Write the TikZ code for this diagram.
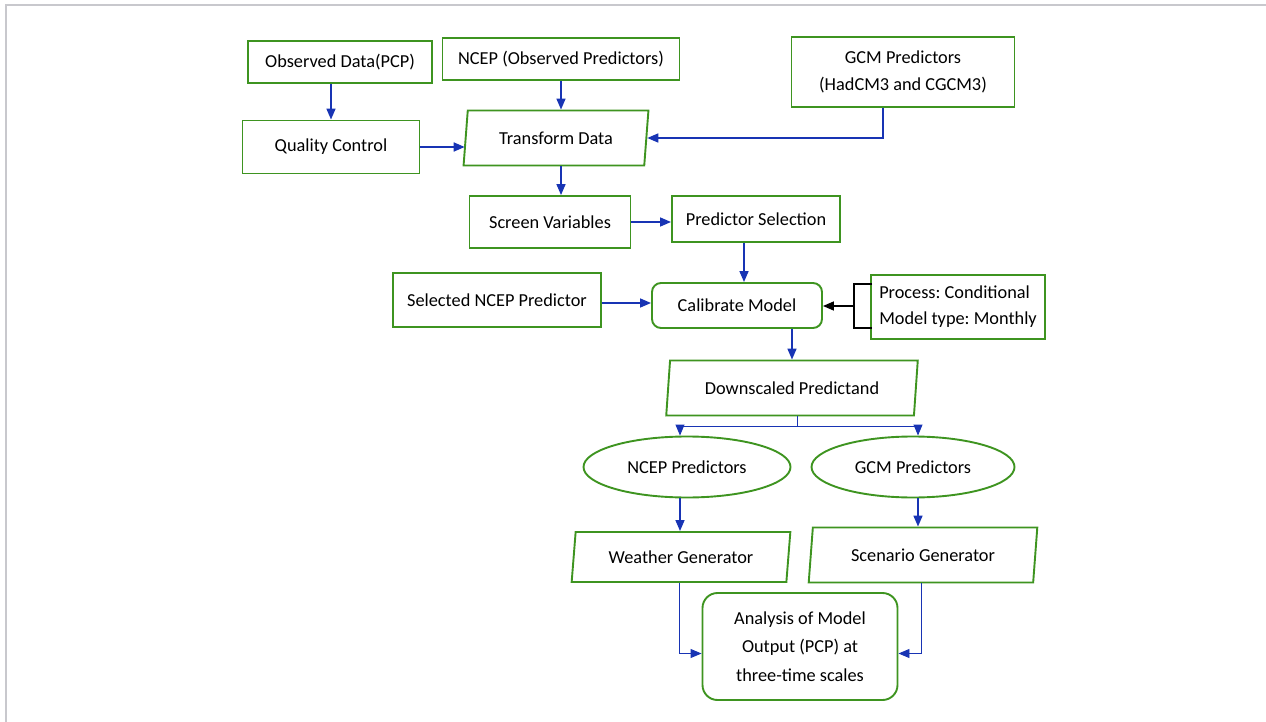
\documentclass[tikz,border=0pt]{standalone}
\usepackage{fontspec}
\setmainfont{Carlito}
\frenchspacing
\usetikzlibrary{arrows.meta,shapes.geometric}
\definecolor{boxgreen}{RGB}{62,148,32}
\definecolor{flowblue}{RGB}{24,52,180}
\definecolor{framegray}{RGB}{200,200,205}
\tikzset{
  base/.style={draw=boxgreen,line width=1.9pt,align=center,inner sep=0pt,
    font=\fontsize{18.3}{27}\selectfont},
  box/.style={base,rectangle},
  rbox/.style={base,rectangle,rounded corners=9pt},
  io/.style={base,trapezium,trapezium left angle=78,trapezium right angle=102,
    trapezium stretches=true},
  oval/.style={base,ellipse},
  arrow/.style={-{Triangle[length=11pt,width=9pt]},line width=1.6pt,draw=flowblue},
  link/.style={arrow,line width=0.9pt},
  feed/.style={-{Triangle[length=11pt,width=9pt]},line width=1.6pt,draw=black}
}

\begin{document}
\begin{tikzpicture}[x=1pt,y=-1pt]
\useasboundingbox (0,0) rectangle (1266,722);
\draw[framegray,line width=1.5pt] (6,722) -- (6,5) -- (1266,5);

% inputs
\node[box,minimum width=184pt,minimum height=42pt] (obs) at (340,62) {Observed Data(PCP)};
\node[box,minimum width=177pt,minimum height=53pt] (qc) at (331,147) {Quality Control};
\node[box,minimum width=237pt,minimum height=42pt] (ncep) at (561,59) {NCEP (Observed Predictors)};
\node[box,minimum width=223pt,minimum height=70pt] (gcm) at (903,72) {GCM Predictors\\(HadCM3 and CGCM3)};
\node[io,minimum width=185pt,minimum height=55pt] (trans) at (556,138) {Transform Data};

% screening and calibration
\node[box,minimum width=161pt,minimum height=52pt] (screen) at (550,222) {Screen Variables};
\node[box,minimum width=168pt,minimum height=46pt] (predsel) at (756,219) {Predictor Selection};
\node[box,minimum width=208pt,minimum height=54pt] (selncep) at (497,300) {Selected NCEP Predictor};
\node[rbox,minimum width=170pt,minimum height=45pt] (calib) at (737,305.5) {Calibrate Model};
\node[box,minimum width=174pt,minimum height=64pt,align=left] (proc) at (958,307)
  {Process: Conditional\\[-1pt]Model type: Monthly};
\node[io,minimum width=252pt,minimum height=55pt] (down) at (792,388) {Downscaled Predictand};

% generators and output
\node[oval,minimum width=207pt,minimum height=61pt] (ncepell) at (687,467) {NCEP Predictors};
\node[oval,minimum width=203pt,minimum height=61pt] (gcmell) at (913,467) {GCM Predictors};
\node[io,minimum width=219pt,minimum height=50pt] (weather) at (681,557) {Weather Generator};
\node[io,minimum width=229pt,minimum height=55pt] (scen) at (923,555) {Scenario Generator};
\node[base,rectangle,rounded corners=15pt,minimum width=195pt,minimum height=107pt,
  font=\fontsize{18.3}{28.5}\selectfont] (anal) at (800,646.5)
  {Analysis of Model\\Output (PCP) at\\three-time scales};

% connectors
\draw[arrow] (qc.north |- obs.south) -- (qc.north);
\draw[arrow] (ncep.south) -- (ncep.south |- trans.north);
\draw[arrow] (qc.east) -- (trans.west |- qc.east);
\draw[arrow] ([xshift=-20pt]gcm.south) |- (trans.east);
\draw[arrow] ([xshift=5pt]trans.south) -- ([xshift=5pt]trans.south |- screen.north);
\draw[arrow] (screen.east) -- (predsel.west |- screen.east);
\draw[arrow] ([xshift=-12pt]predsel.south) -- ([xshift=-12pt]predsel.south |- calib.north);
\draw[arrow] ([yshift=-3pt]selncep.east) coordinate (s1) -- (calib.west |- s1);

% bracket from the settings box
\draw[line width=1.2pt] ([xshift=2pt,yshift=23pt]proc.west) -- ++(-18,0)
  -- ([xshift=-16pt,yshift=-21pt]proc.west) -- ++(18,0);
\coordinate (brk) at ([xshift=-16pt,yshift=1pt]proc.west);
\draw[feed] (brk) -- (calib.east |- brk);

\draw[arrow] ([xshift=55pt]calib.south) -- ([xshift=55pt]calib.south |- down.north);

% fork below the predictand
\draw[link,-] ([xshift=5pt]down.south) -- ++(0,10) coordinate (fork);
\draw[link] (fork) -| ([xshift=-7pt]ncepell.north);
\draw[link] (fork) -| ([xshift=5pt]gcmell.north);

\draw[arrow] ([xshift=-7pt]ncepell.south) -- ([xshift=-7pt]ncepell.south |- weather.north);
\draw[arrow] ([xshift=5pt]gcmell.south) -- ([xshift=5pt]gcmell.south |- scen.north);

\draw[link] ([xshift=-2pt]weather.south) |- ([yshift=-7pt]anal.west);
\draw[link] ([xshift=-2pt]scen.south) |- ([yshift=-7pt]anal.east);
\end{tikzpicture}
\end{document}
